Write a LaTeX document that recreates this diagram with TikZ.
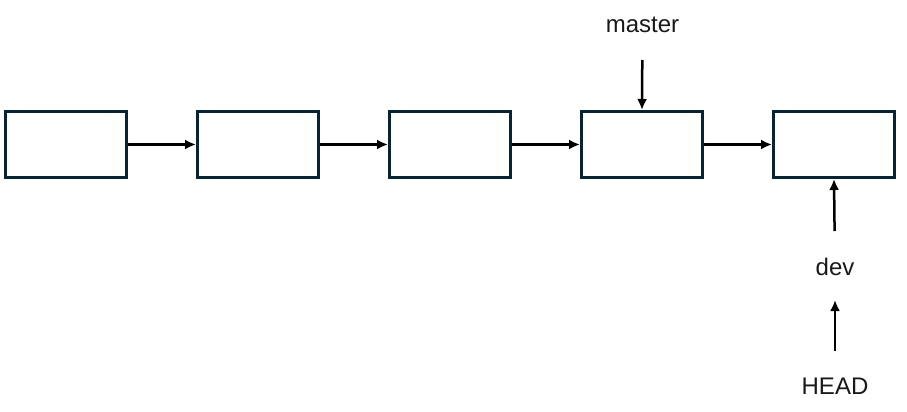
\documentclass[tikz,border=0pt]{standalone}
\usepackage{fontspec}
\setmainfont{Liberation Sans}
\usetikzlibrary{positioning, arrows.meta}

\definecolor{boxline}{RGB}{8,36,52}

\begin{document}
\begin{tikzpicture}[x = 1pt, y = -1pt, > = {Latex[length = 11pt, width = 10pt]},
	commit/.style = {draw = boxline, line width = 3pt, fill = white, minimum width = 121pt, minimum height = 66pt, inner sep = 0pt},
	link/.style = {->, line width = 2.5pt, black},
	label/.style = {font = \fontsize{24}{28}\selectfont, text = black!90, inner sep = 0pt}]

	% Picture frame
	
	\useasboundingbox (0, 0) rectangle (907, 412);
	
	% Commits along the branch
	
	\node [commit] (c1) at (66, 144.5) {};
	\node [commit, right = 68pt of c1] (c2) {};
	\node [commit, right = 68pt of c2] (c3) {};
	\node [commit, right = 68pt of c3] (c4) {};
	\node [commit, right = 68pt of c4] (c5) {};
	
	% Parent links
	
	\foreach \i/\j in {1/2, 2/3, 3/4, 4/5}
		\draw [link] (c\i) -- (c\j);
	
	% Branch labels and HEAD
	
	\node [label] (master) at (642.5, 25) {master};
	\node [label] (dev) at (835, 267) {dev};
	\node [label] (HEAD) at (835, 386) {HEAD};
	
	\draw [link, shorten <= 35pt] (master.center) -- (c4.north);
	\draw [link, shorten <= 36pt] (dev.center) -- (c5.south);
	\draw [link, shorten <= 35pt, shorten >= 33pt] (HEAD.center) -- (dev.center);
	
\end{tikzpicture}
\end{document}
